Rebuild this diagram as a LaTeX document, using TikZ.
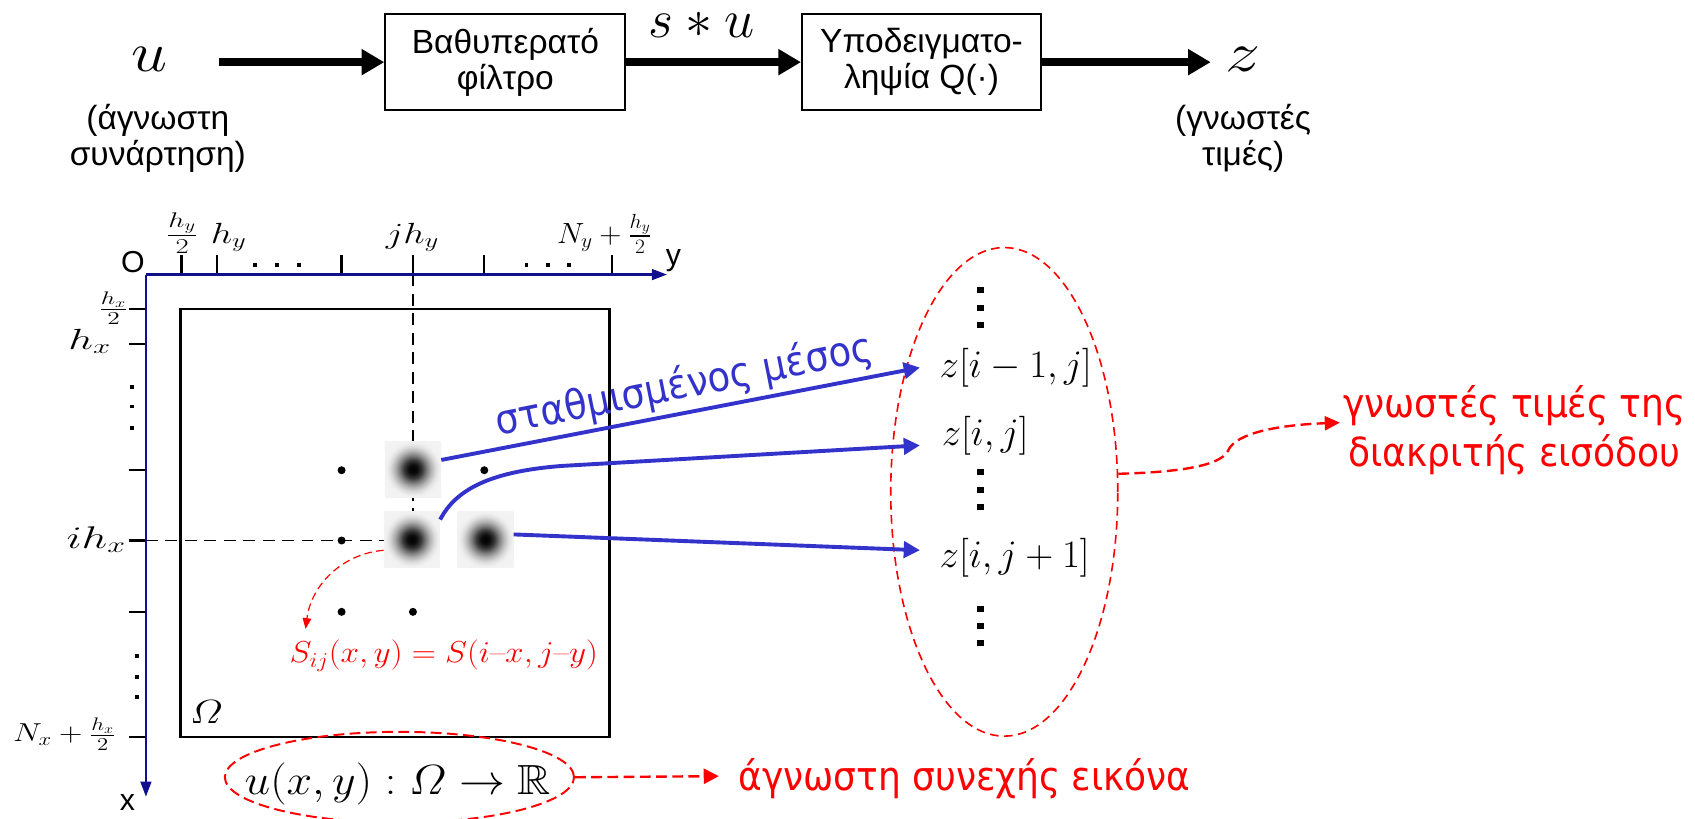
\documentclass[tikz,border=0pt]{standalone}
\usepackage{fix-cm}
\usepackage{amsmath,amssymb}
\DeclareFontFamily{U}{msb}{}
\DeclareFontShape{U}{msb}{m}{n}{<-> msbm10}{}
\usepackage{graphicx}
\usepackage{fontspec}
\usetikzlibrary{arrows.meta,shapes.geometric,calc}
\newfontfamily\arialf{Liberation Sans}
\newfontfamily\tahf{DejaVu Sans Condensed}
\definecolor{arrblue}{RGB}{51,51,204}
\definecolor{axblue}{RGB}{16,16,140}
\newcommand{\fs}[1]{\fontsize{#1}{#1}\selectfont}
\newcommand{\sx}[2]{\scalebox{#1}[1]{#2}}
\pgfdeclareradialshading{blobshade}{\pgfpoint{0bp}{0bp}}{color(0bp)=(black); color(4bp)=(black!95); color(8bp)=(black!78); color(12bp)=(black!52); color(16bp)=(black!30); color(20bp)=(black!14); color(23bp)=(black!7); color(25bp)=(black!5); color(50bp)=(black!4)}
\begin{document}
\begin{tikzpicture}[x=1pt,y=-1pt,
 box/.style={draw,line width=2pt,minimum width=222pt,minimum height=89pt,inner sep=0pt,align=center,font=\arialf\fontsize{31}{33}\selectfont},
 sans/.style={font=\arialf\fontsize{31}{33}\selectfont,align=center,inner sep=0pt},
 bigarr/.style={line width=7.5pt,-{Triangle[length=21pt,width=23pt]}},
 axisarr/.style={axblue,line width=2pt,-{Triangle[length=14pt,width=10pt]}},
 tick/.style={line width=2.2pt},
 mathl/.style={inner sep=0pt,anchor=base},
 guide/.style={line width=1.3pt,dash pattern=on 11pt off 7pt},
 blob/.style={shade,shading=blobshade,minimum size=52pt,inner sep=0pt},
 bluearr/.style={arrblue,line width=3.6pt,-{Triangle[length=15pt,width=15pt]}},
 redbig/.style={red,line width=2.2pt,dash pattern=on 10pt off 5pt},
 redell/.style={red,line width=1.5pt,dash pattern=on 8pt off 5pt},
 redthin/.style={red,line width=1.1pt,dash pattern=on 7pt off 4pt},
 redlab/.style={red,font=\tahf\fontsize{37}{45}\selectfont,inner sep=0pt,align=center}
]
\useasboundingbox (0,0) rectangle (1568,757);

% ---------- top block diagram ----------
\node[mathl] (u) at (138,66) {\fs{52}\sx{1.15}{$u$}};
\node[sans] (ulab) at (146,128) {(άγνωστη\\συνάρτηση)};
\coordinate (a0) at (203,57.5);
\node[box] (f1) at (467.5,57.5) {Βαθυπερατό\\φίλτρο};
\node[mathl] (su) at (649,35) {\fs{50}$s\ast u$};
\node[box,minimum width=221pt] (f2) at (852.5,57.5) {Υποδειγματο-\\ληψία Q(·)};
\coordinate (a3) at (1120,57.5);
\node[mathl] (z) at (1150,66) {\fs{52}\sx{1.25}{$z$}};
\node[sans] (zlab) at (1150,128) {(γνωστές\\τιμές)};
\draw[bigarr] (a0) -- (f1.west);
\draw[bigarr] (f1.east) -- (f2.west);
\draw[bigarr] (f2.east) -- (a3);

% ---------- axes ----------
\coordinate (O) at (135,254);
\coordinate (yend) at (617,254);
\coordinate (xend) at (135,737);
\foreach \t in {168,201,316,382,448,566} \draw[tick] (\t,254) -- (\t,236);
\foreach \t in {286,318,435,500,566,682} \draw[tick] (119,\t) -- (135,\t);
\draw[guide] (382,254) -- (382,500);
\draw[guide] (135,500) -- (382,500);
\draw[axisarr] (O) -- (yend);
\draw[axisarr] (O) -- (xend);
\node[sans,font=\arialf\fs{28},anchor=base] (Olab) at (123,252) {O};
\node[sans,font=\arialf\fs{28},anchor=base] (ylab) at (623,246) {y};
\node[sans,font=\arialf\fs{28},anchor=base] (xlab) at (118,750) {x};

\foreach \x in {236,256,276.5,487,507,526} \fill (\x-1.8,245-1.8) rectangle ++(3.6,3.6);
\foreach \y in {358,376,396} \fill (122-1.8,\y-1.8) rectangle ++(3.6,3.6);
\foreach \y in {607,626,645} \fill (126.5-1.8,\y-1.8) rectangle ++(3.6,3.6);

\node[mathl] (lhy2) at (168.5,225) {\fs{28}\sx{1.35}{$\frac{h_y}{2}$}};
\node[mathl] (lhy) at (211.5,225) {\fs{27}\sx{1.3}{$h_y$}};
\node[mathl] (ljhy) at (381.5,225) {\fs{27}\sx{1.3}{$jh_y$}};
\node[mathl] (lNy) at (559,225) {\fs{27}\sx{1.05}{$N_y+\frac{h_y}{2}$}};
\node[mathl] (lhx2) at (105,292) {\fs{24}\sx{1.4}{$\frac{h_x}{2}$}};
\node[mathl] (lhx) at (83,323) {\fs{27}\sx{1.5}{$h_x$}};
\node[mathl] (lihx) at (89,507) {\fs{29}\sx{1.45}{$ih_x$}};
\node[mathl] (lNx) at (59.5,686) {\fs{24}\sx{1.25}{$N_x+\frac{h_x}{2}$}};

% ---------- domain ----------
\draw[line width=2.3pt] (167,286) rectangle (564,682);
\node[mathl] (om) at (191,669) {\fs{31}\sx{1.2}{$\varOmega$}};
\foreach \p in {(316,435),(448,435),(316,500),(316,566),(382,566)} \fill \p circle (3.7);
\node[blob] (b1) at (382,434) {};
\node[blob] (b2) at (381,499) {};
\node[blob] (b3) at (449,499) {};

% ---------- samples ----------
\node[inner sep=0pt,anchor=base west] (zA) at (869,349) {\fs{36}$z[i-1,j]$};
\node[inner sep=0pt,anchor=base west] (zB) at (871,412) {\fs{36}$z[i,j]$};
\node[inner sep=0pt,anchor=base west] (zC) at (869,525) {\fs{36}$z[i,j+1]$};
\foreach \y in {268,285,301,437,453,469,563,579,595} \fill (907-2.8,\y-2.8) rectangle ++(5.6,5.6);
\node[ellipse,draw,redell,minimum width=210pt,minimum height=452pt,inner sep=0pt] (E1) at (929,455) {};

\draw[bluearr] (b1.18) -- ($(zA.west)+(-18,0)$);
\draw[bluearr] (b2.35) .. controls (422,452) and (455,436) .. (520,431) -- ($(zB.west)+(-20,9)$);
\draw[bluearr] (b3.10) -- ($(zC.west)+(-18,-7)$);
\node[arrblue,font=\tahf\fs{38},rotate=11.3,inner sep=0pt] (wlab) at (633,357) {σταθμισμένος μέσος};

\node[redlab] (lab1) at (1401,398) {γνωστές τιμές της\\διακριτής εισόδου};
\draw[redbig,-{Triangle[length=14pt,width=13pt]}] (E1.9) .. controls (1080,437) and (1128,433) .. (1136,417) .. controls (1143,400) and (1185,393) .. ($(lab1.west)+(-3,-7)$);

% ---------- bottom ----------
\node[ellipse,draw,redbig,line width=1.8pt,minimum width=323pt,minimum height=84pt,inner sep=0pt] (E2) at (369.5,719) {};
\node[mathl] (uR) at (368,735) {\fs{39}\sx{1.09}{$u(x,y):\varOmega\to\mathbb{R}$}};
\node[redlab,anchor=west] (lab2) at (683,720) {άγνωστη συνεχής εικόνα};
\draw[redbig,-{Triangle[length=14pt,width=14pt]}] (E2.east) -- ($(lab2.west)+(-18,-2)$);

\node[mathl,red] (Slab) at (410.5,613) {\fs{28}\sx{1.1}{$S_{ij}(x,y)=S(i\mbox{--}x,j\mbox{--}y)$}};
\draw[redthin,-{Triangle[length=10pt,width=8pt]}] (b2.201) .. controls (318,512) and (288,540) .. ($(Slab.north west)+(15,-10)$);
\end{tikzpicture}
\end{document}
